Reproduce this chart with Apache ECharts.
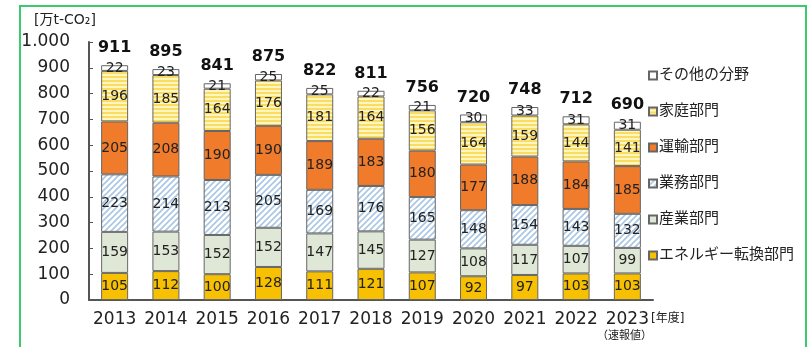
<!DOCTYPE html>
<html>
<head>
<meta charset="utf-8">
<script src="https://cdn.jsdelivr.net/npm/echarts@6/dist/echarts.min.js"></script>
<style>
  html, body { margin: 0; padding: 0; background: #fff; }
  #chart { width: 810px; height: 347px; }
</style>
</head>
<body>
<div id="chart"></div>
<script>
// data (万t-CO2)
const years = ['2013', '2014', '2015', '2016', '2017', '2018', '2019', '2020', '2021', '2022', '2023'];
const energy = [105, 112, 100, 128, 111, 121, 107, 92, 97, 103, 103];      // エネルギー転換部門
const industry = [159, 153, 152, 152, 147, 145, 127, 108, 117, 107, 99];  // 産業部門
const business = [223, 214, 213, 205, 169, 176, 165, 148, 154, 143, 132]; // 業務部門
const transport = [205, 208, 190, 190, 189, 183, 180, 177, 188, 184, 185]; // 運輸部門
const household = [196, 185, 164, 176, 181, 164, 156, 164, 159, 144, 141]; // 家庭部門
const other = [22, 23, 21, 25, 25, 22, 21, 30, 33, 31, 31];                // その他の分野
const totals = [911, 895, 841, 875, 822, 811, 756, 720, 748, 712, 690];
const yTicks = ['0', '100', '200', '300', '400', '500', '600', '700', '800', '900', '1.000'];

const FONT = '"DejaVu Sans", "Noto Sans CJK JP", sans-serif';

// 家庭部門: horizontal yellow stripes
const stripeCanvas = () => {
  const c = document.createElement('canvas');
  c.width = 4; c.height = 4;
  const ctx = c.getContext('2d');
  ctx.fillStyle = '#fff6bf';
  ctx.fillRect(0, 0, 4, 4);
  ctx.fillStyle = '#f9dc62';
  ctx.fillRect(0, 0, 4, 2);
  return c;
};

// 業務部門: light blue diagonal hatch
const hatchCanvas = () => {
  const c = document.createElement('canvas');
  c.width = 6; c.height = 6;
  const ctx = c.getContext('2d');
  ctx.fillStyle = '#ffffff';
  ctx.fillRect(0, 0, 6, 6);
  ctx.strokeStyle = '#a9c7e4';
  ctx.lineWidth = 1.6;
  ctx.beginPath();
  ctx.moveTo(0, 6); ctx.lineTo(6, 0);
  ctx.moveTo(-3, 3); ctx.lineTo(3, -3);
  ctx.moveTo(3, 9); ctx.lineTo(9, 3);
  ctx.stroke();
  return c;
};

const segLabel = {
  show: true,
  position: 'inside',
  color: '#222',
  fontSize: 14,
  fontFamily: FONT
};

const mkSeries = (name, data, color) => ({
  name: name,
  type: 'bar',
  stack: 'total',
  barWidth: 27,
  data: data,
  itemStyle: { color: color, borderColor: '#666', borderWidth: 1 },
  label: segLabel
});

const chart = echarts.init(document.getElementById('chart'));

chart.setOption({
  animation: false,
  backgroundColor: '#fff',
  grid: { left: 89, right: 157, top: 42, bottom: 47 },
  legend: {
    orient: 'vertical',
    left: 643,
    top: 63,
    itemWidth: 8,
    itemHeight: 8,
    itemGap: 21,
    icon: 'rect',
    data: ['その他の分野', '家庭部門', '運輸部門', '業務部門', '産業部門', 'エネルギー転換部門'],
    textStyle: { fontSize: 15, color: '#222', fontFamily: FONT, padding: [0, 0, 0, -3] }
  },
  xAxis: {
    type: 'category',
    data: years,
    axisLine: { lineStyle: { color: '#555', width: 2 } },
    axisTick: { show: false },
    axisLabel: { interval: 0, hideOverlap: false, color: '#222', fontSize: 17, fontFamily: FONT, margin: 11 }
  },
  yAxis: {
    type: 'value',
    min: 0,
    max: 1000,
    interval: 100,
    splitLine: { show: false },
    axisLine: { show: true, lineStyle: { color: '#555', width: 2 } },
    axisTick: { show: true, inside: true, length: 4, lineStyle: { color: '#555' } },
    axisLabel: {
      color: '#222', fontSize: 17, fontFamily: FONT, margin: 19,
      formatter: (v) => yTicks[Math.round(v / 100)]
    }
  },
  graphic: [
    {
      type: 'rect',
      shape: { x: 20, y: 6, width: 786, height: 400 },
      style: { fill: 'none', stroke: '#3ccb6c', lineWidth: 2 },
      silent: true
    },
    {
      type: 'text', left: 34, top: 13,
      style: { text: '[万t-CO₂]', fontSize: 14, fill: '#222', fontFamily: FONT }
    },
    {
      type: 'text', left: 651, top: 313,
      style: { text: '[年度]', fontSize: 12, fill: '#222', fontFamily: FONT }
    },
    {
      type: 'text', left: 597, top: 331,
      style: { text: '（速報値）', fontSize: 11, fill: '#222', fontFamily: FONT }
    }
  ],
  series: [
    mkSeries('エネルギー転換部門', energy, '#f7c000'),
    mkSeries('産業部門', industry, '#dfe8d6'),
    mkSeries('業務部門', business, { image: hatchCanvas(), repeat: 'repeat' }),
    mkSeries('運輸部門', transport, '#f07b2b'),
    mkSeries('家庭部門', household, { image: stripeCanvas(), repeat: 'repeat' }),
    mkSeries('その他の分野', other, '#ffffff'),
    {
      name: 'total',
      type: 'bar',
      stack: 'total',
      barWidth: 27,
      data: totals.map(() => 0),
      itemStyle: { color: 'transparent' },
      label: {
        show: true,
        position: 'top',
        distance: 9,
        color: '#111',
        fontSize: 16,
        fontWeight: 'bold',
        fontFamily: FONT,
        formatter: (p) => totals[p.dataIndex]
      }
    }
  ]
});
</script>
</body>
</html>
